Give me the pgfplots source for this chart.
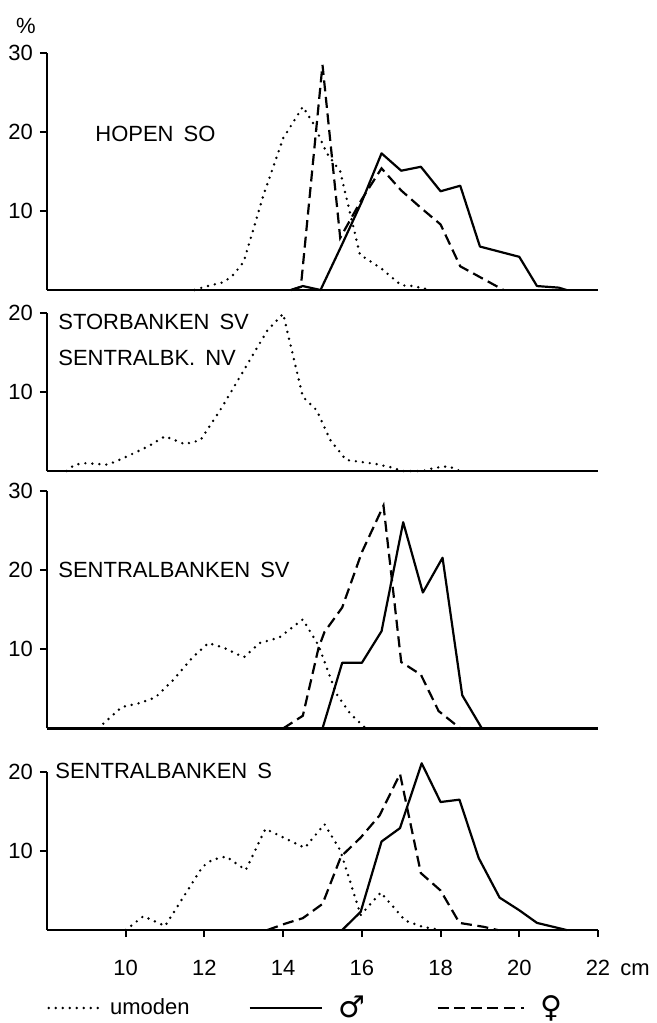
\documentclass[border=0pt]{standalone}
\usepackage{fontspec}
\setmainfont{Liberation Sans}
\newfontfamily\symf{DejaVu Sans}
\usepackage{pgfplots}
\pgfplotsset{compat=1.18}
\pgfplotsset{
 umod/.style={black, line width=1.35pt, line cap=round, dash pattern=on 0pt off 3.5pt},
 male/.style={black, line width=1.1pt, line join=round},
 fem/.style={black, line width=1.1pt, dash pattern=on 5.5pt off 2.8pt},
 legA/.style={legend image code/.code={\draw[##1] (0pt,0pt) -- (28pt,0pt);}},
 legB/.style={legend image code/.code={\path[draw=none] (0pt,0pt) -- (28pt,0pt); \draw[##1] (28pt,0pt) -- (64pt,0pt);}},
 legC/.style={legend image code/.code={\path[draw=none] (0pt,0pt) -- (34pt,0pt); \draw[##1] (34pt,0pt) -- (77pt,0pt);}},
 panel/.style={scale only axis, width=275.5pt, xmin=8, xmax=22, ymin=0,
   axis x line=bottom, axis y line=left, axis line style={-, line width=1.2pt},
   tick align=outside, major tick length=3.5pt, tick style={line width=1pt, black},
   xtick=\empty, anchor=south west, clip=false,
   /pgf/number format/assume math mode=true,
   ticklabel style={font=\fontsize{11}{13}\selectfont}},
}
\begin{document}
\begin{tikzpicture}[font=\fontsize{11}{13}\selectfont]
\useasboundingbox (0,0) rectangle (328.5pt,-511.5pt);

% Panel 1: HOPEN SO
\begin{axis}[panel, at={(23.5pt,-145pt)}, height=118.5pt, ymax=30, ytick={10,20,30}]
\addplot[umod] coordinates {(11.75,0) (12.0,0.4) (12.5,1.0) (12.75,2.0) (13.0,3.6) (13.5,12.0) (14.0,19.2) (14.5,23.2) (14.8,20.8) (15.1,17.4) (15.45,15.0) (15.95,4.5) (16.5,2.7) (17.0,0.6) (17.3,0.5) (17.75,0)};
\addplot[male] coordinates {(14.2,0) (14.5,0.5) (14.95,0) (15.5,5.8) (16.0,11.2) (16.5,17.3) (17.0,15.1) (17.5,15.6) (18.0,12.5) (18.5,13.2) (19.0,5.5) (20.0,4.2) (20.45,0.5) (21.0,0.3) (21.2,0)};
\addplot[fem] coordinates {(14.2,0) (14.45,0.4) (15.0,28.5) (15.45,6.6) (16.0,11.5) (16.5,15.4) (17.0,12.6) (17.5,10.4) (18.0,8.3) (18.5,3.0) (19.6,0)};
\end{axis}

% Panel 2: STORBANKEN SV / SENTRALBK. NV
\begin{axis}[panel, at={(23.5pt,-235.5pt)}, height=79pt, ymax=20, ytick={10,20}]
\addplot[umod] coordinates {(8.5,0) (8.7,0.8) (9.0,1.0) (9.5,0.8) (9.7,1.1) (10.1,2.0) (10.6,3.2) (11.0,4.4) (11.5,3.4) (11.9,3.9) (12.45,8.1) (13.1,13.6) (13.6,17.8) (14.0,19.9) (14.5,9.4) (14.85,7.7) (15.2,3.9) (15.6,1.4) (16.35,0.9) (16.8,0.4) (17.0,0) (17.55,0) (17.85,0.4) (18.2,0.6) (18.5,0)};
\end{axis}

% Panel 3: SENTRALBANKEN SV
\begin{axis}[panel, at={(23.5pt,-364.2pt)}, height=118.5pt, ymax=30, ytick={10,20,30}]
\addplot[umod] coordinates {(9.3,0) (9.9,2.7) (10.35,3.2) (10.75,3.9) (11.2,6.1) (11.7,9.0) (12.1,10.8) (12.5,10.2) (13.0,9.0) (13.4,10.8) (13.9,11.5) (14.5,13.8) (14.9,10.5) (15.35,4.4) (15.7,1.9) (16.1,0)};
\addplot[fem] coordinates {(14.0,0) (14.5,1.6) (14.9,10.2) (15.05,12.2) (15.5,15.3) (16.0,22.3) (16.55,28.2) (17.0,8.4) (17.5,6.8) (17.95,2.2) (18.5,0)};
\addplot[male] coordinates {(15.0,0) (15.5,8.3) (16.0,8.3) (16.5,12.3) (17.05,26.1) (17.55,17.2) (18.05,21.6) (18.55,4.2) (19.05,0)};
\end{axis}

% Panel 4: SENTRALBANKEN S
\begin{axis}[panel, at={(23.5pt,-465pt)}, height=79pt, ymax=20, ytick={10,20},
  xtick={10,12,14,16,18,20,22},
  xticklabel style={anchor=base, yshift=-19pt},
  legend style={draw=none, fill=none, inner sep=0pt, at={(0,-0.494)}, anchor=west,
    legend columns=3, font=\fontsize{11}{13}\selectfont}]
\addlegendimage{umod, legA}
\addlegendentry{umoden}
\addlegendimage{male, legB}
\addlegendentry{\hspace{6pt}{\symf\fontsize{15}{16}\selectfont ♂}}
\addlegendimage{fem, legC}
\addlegendentry{\hspace{6pt}{\symf\fontsize{15}{16}\selectfont ♀}}
\addplot[umod, forget plot] coordinates {(10.0,0) (10.45,1.75) (11.0,0.5) (11.95,8.0) (12.2,8.9) (12.55,9.3) (13.05,7.6) (13.55,12.8) (14.55,10.4) (15.05,13.4) (15.45,10.1) (15.97,1.9) (16.48,4.75) (17.1,1.2) (17.55,0.4) (18.0,0)};
\addplot[fem, forget plot] coordinates {(13.6,0) (14.05,0.8) (14.5,1.5) (15.0,3.3) (15.47,9.3) (15.97,11.7) (16.45,14.5) (16.97,19.75) (17.5,7.2) (18.0,5.0) (18.48,0.9) (19.1,0.4) (19.45,0)};
\addplot[male, forget plot] coordinates {(15.5,0) (15.97,2.3) (16.5,11.2) (16.97,12.9) (17.52,21.1) (18.0,16.2) (18.48,16.5) (18.97,9.1) (19.5,4.1) (20.0,2.5) (20.45,0.9) (21.2,0)};
\end{axis}

% texts
\node at (13pt,-13pt) {\%};
\node[anchor=west, inner sep=0pt] at (47.5pt,-67pt) {HOPEN\hspace{5pt}SO};
\node[anchor=west, inner sep=0pt] at (29pt,-161pt) {STORBANKEN\hspace{5pt}SV};
\node[anchor=west, inner sep=0pt] at (29pt,-179pt) {SENTRALBK.\hspace{5pt}NV};
\node[anchor=west, inner sep=0pt] at (29pt,-285pt) {SENTRALBANKEN\hspace{5pt}SV};
\node[anchor=west, inner sep=0pt] at (27.5pt,-385.5pt) {SENTRALBANKEN\hspace{5pt}S};
\node[anchor=base west, inner sep=0pt] at (310pt,-487.5pt) {cm};
\end{tikzpicture}
\end{document}
